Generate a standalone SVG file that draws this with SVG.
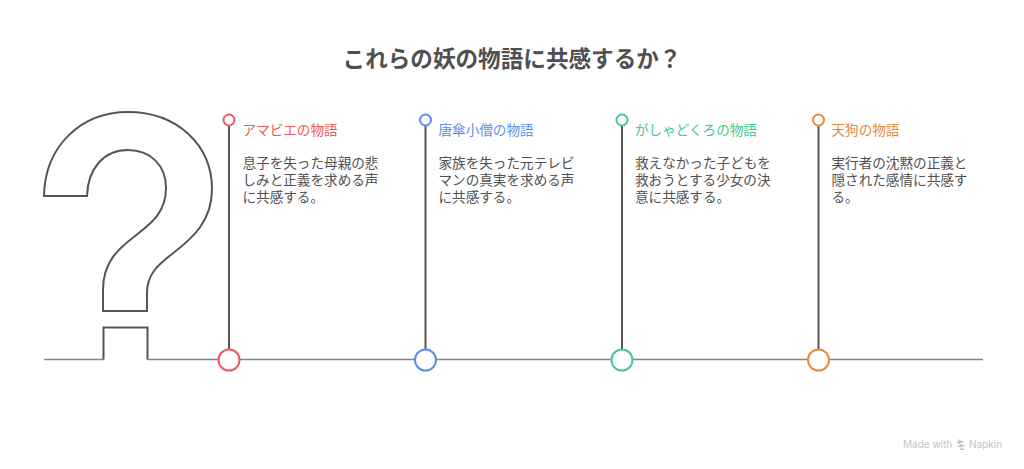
<svg xmlns="http://www.w3.org/2000/svg" width="1024" height="469" viewBox="0 0 1024 469">
<style>
text{font-family:"Noto Sans CJK JP","Noto Sans",sans-serif}
.title{font-size:22.600px;font-weight:700;fill:#505050}
.label{font-size:13.600px}
.body{font-size:13.600px;fill:#505050}
.stem{stroke:#555;stroke-width:2;fill:none}
.base{stroke:#858585;stroke-width:1.500;fill:none}
.mark{stroke:#555;stroke-width:2;fill:#fff}
.big{stroke-width:2;fill:#fff}
.small{stroke-width:2;fill:#fff}
.wm{font-family:"Inter","Liberation Sans",sans-serif;font-size:10px;fill:#c4c4c4}
</style>
<rect width="1024" height="469" fill="#fff"/>
<text class="title" x="512" y="67" text-anchor="middle">これらの妖の物語に共感するか？</text>
<g id="question-mark">
<path class="mark" d="M44 196C45 145 82 112 128 112C177 112 212 145 212 189C212 221 193 238 172 254C158 265 147 274 147 293V311H103V290C103 262 118 249 135 236C152 223 166 212 166 188C166 165 150 150 128 150C104 150 88 168 87 196Z"/>
</g>
<g id="connectors">
<path class="base" d="M44 359.500H103.500"/>
<path class="base" d="M147.500 359.500H983"/>
<path class="mark" style="fill:none" d="M103.500 359.500V327.500H147.500V359.500"/>
<path class="stem" d="M229 125V349"/>
<path class="stem" d="M425.500 125V349"/>
<path class="stem" d="M622 125V349"/>
<path class="stem" d="M818.500 125V349"/>
</g>
<g id="node-amabie">
<circle class="big" cx="229" cy="360" r="10.500" stroke="#e85c5c"/>
<circle class="small" cx="229" cy="120" r="5.500" stroke="#e85c5c"/>
<text class="label" x="242.500" y="135" fill="#e85c5c">アマビエの物語</text>
<text class="body" x="242.500" y="168">息子を失った母親の悲<tspan x="242.500" dy="17">しみと正義を求める声</tspan><tspan x="242.500" dy="17">に共感する。</tspan></text>
</g>
<g id="node-karakasa">
<circle class="big" cx="425.500" cy="360" r="10.500" stroke="#5c8ee8"/>
<circle class="small" cx="425.500" cy="120" r="5.500" stroke="#5c8ee8"/>
<text class="label" x="438.500" y="135" fill="#5c8ee8">唐傘小僧の物語</text>
<text class="body" x="438.500" y="168">家族を失った元テレビ<tspan x="438.500" dy="17">マンの真実を求める声</tspan><tspan x="438.500" dy="17">に共感する。</tspan></text>
</g>
<g id="node-gashadokuro">
<circle class="big" cx="622" cy="360" r="10.500" stroke="#45c98c"/>
<circle class="small" cx="622" cy="120" r="5.500" stroke="#45c98c"/>
<text class="label" x="635" y="135" fill="#45c98c">がしゃどくろの物語</text>
<text class="body" x="635" y="168">救えなかった子どもを<tspan x="635" dy="17">救おうとする少女の決</tspan><tspan x="635" dy="17">意に共感する。</tspan></text>
</g>
<g id="node-tengu">
<circle class="big" cx="818.500" cy="360" r="10.500" stroke="#e58a3c"/>
<circle class="small" cx="818.500" cy="120" r="5.500" stroke="#e58a3c"/>
<text class="label" x="831.500" y="135" fill="#e58a3c">天狗の物語</text>
<text class="body" x="831.500" y="168">実行者の沈黙の正義と<tspan x="831.500" dy="17">隠された感情に共感す</tspan><tspan x="831.500" dy="17">る。</tspan></text>
</g>
<g id="watermark">
<text class="wm" x="903" y="448">Made with</text>
<path d="M957 439l8 3-6 1 7 3-6 1 5 3-6 0 2-2-4-2 4-1-5-3 3-1z" fill="#c4c4c4"/>
<text class="wm" x="969" y="448">Napkin</text>
</g>
</svg>
